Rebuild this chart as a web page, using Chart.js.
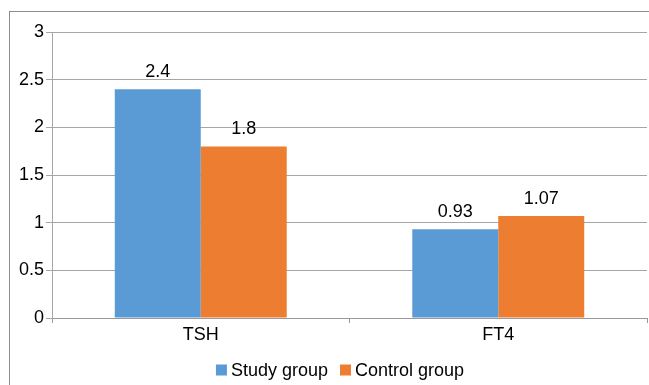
<!DOCTYPE html>
<html><head><meta charset="utf-8">
<script src="https://cdn.jsdelivr.net/npm/chart.js@4/dist/chart.umd.min.js"></script>
<style>html,body{margin:0;padding:0;background:#fff;}canvas{display:block;}</style>
</head><body>
<canvas id="c" width="649" height="385"></canvas>
<script>
const categories = ["TSH", "FT4"];
const studyGroup = [2.4, 0.93];
const controlGroup = [1.8, 1.07];
const seriesNames = ["Study group", "Control group"];
const seriesColors = ["#5B9BD5", "#ED7D31"];

const FONT = "'Liberation Sans', Arial, sans-serif";
const FS = 18;

const frame = {
  id: 'frame',
  afterDraw(chart) {
    const ctx = chart.ctx;
    ctx.save();
    ctx.strokeStyle = '#8c8c8c';
    ctx.lineWidth = 1;
    ctx.strokeRect(9.5, 11.5, 800, 600);
    ctx.restore();
  }
};
const labels = {
  id: 'labels',
  afterDatasetsDraw(chart) {
    const ctx = chart.ctx;
    ctx.save();
    ctx.font = FS + "px " + FONT;
    ctx.fillStyle = '#000';
    ctx.textAlign = 'center';
    ctx.textBaseline = 'alphabetic';
    chart.data.datasets.forEach((ds, i) => {
      chart.getDatasetMeta(i).data.forEach((bar, j) => {
        ctx.fillText(String(ds.data[j]), bar.x, bar.y - 12);
      });
    });
    ctx.restore();
  }
};
const legend = {
  id: 'customLegend',
  afterDraw(chart) {
    const ctx = chart.ctx;
    ctx.save();
    ctx.font = FS + "px " + FONT;
    ctx.textBaseline = 'middle';
    ctx.textAlign = 'left';
    const box = 11, gap = 4, between = 12;
    const widths = chart.data.datasets.map(d => box + gap + ctx.measureText(d.label).width);
    const total = widths.reduce((a, b) => a + b, 0) + between * (widths.length - 1);
    let x = 340 - total / 2;
    const y = 370;
    chart.data.datasets.forEach((d, i) => {
      ctx.fillStyle = d.backgroundColor;
      ctx.fillRect(x, y - box / 2, box, box);
      ctx.fillStyle = '#000';
      ctx.fillText(d.label, x + box + gap, y + 1);
      x += widths[i] + between;
    });
    ctx.restore();
  }
};

new Chart(document.getElementById('c'), {
  type: 'bar',
  data: {
    labels: categories,
    datasets: [
      {label: seriesNames[0], data: studyGroup, backgroundColor: seriesColors[0], barPercentage: 1, categoryPercentage: 0.578},
      {label: seriesNames[1], data: controlGroup, backgroundColor: seriesColors[1], barPercentage: 1, categoryPercentage: 0.578}
    ]
  },
  options: {
    responsive: false,
    devicePixelRatio: 1,
    animation: false,
    layout: {padding: {top: 32, right: 2, left: 0, bottom: 0}},
    plugins: {
      tooltip: {enabled: false},
      legend: {display: false}
    },
    scales: {
      x: {
        grid: {offset: true, drawOnChartArea: false, drawTicks: true, tickLength: 5, color: '#999'},
        border: {color: '#999'},
        ticks: {font: {size: FS, family: FONT}, color: '#000', padding: 1},
        afterFit(s) { s.height = 67; }
      },
      y: {
        min: 0, max: 3,
        ticks: {stepSize: 0.5, font: {size: FS, family: FONT}, color: '#000', padding: 2,
                callback: v => String(v)},
        grid: {color: '#a6a6a6', tickLength: 6},
        border: {color: '#a6a6a6'},
        afterFit(s) { s.width = 52; }
      }
    }
  },
  plugins: [frame, labels, legend]
});
</script>
</body></html>
